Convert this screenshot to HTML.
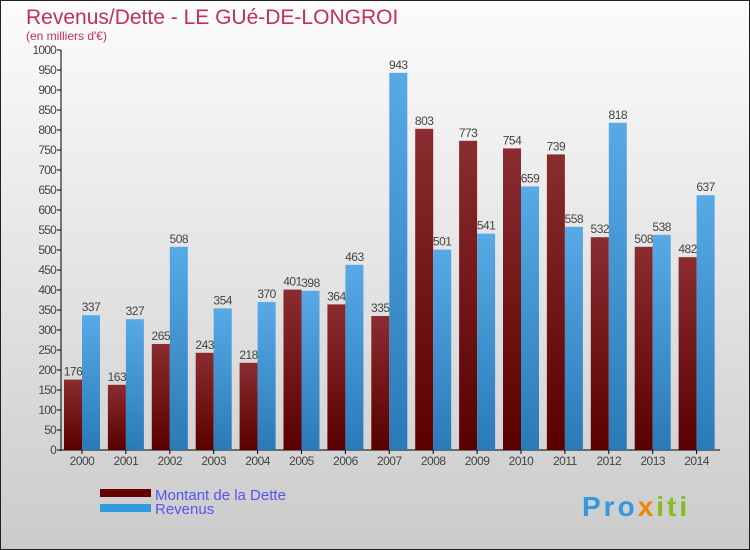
<!DOCTYPE html>
<html><head><meta charset="utf-8"><style>
body{margin:0}
#c{width:750px;height:550px;position:relative;box-sizing:border-box;border:1px solid #222;background:linear-gradient(#fcfcfc,#cbcbcb);font-family:"Liberation Sans",sans-serif;overflow:hidden}
</style></head><body>
<div id="c">
<svg width="750" height="550" style="position:absolute;left:-1px;top:-1px" id="s">
<defs>
<linearGradient id="gd" x1="0" y1="0" x2="0" y2="1"><stop offset="0" stop-color="#8a2c30"/><stop offset="1" stop-color="#5a0000"/></linearGradient>
<linearGradient id="gr" x1="0" y1="0" x2="0" y2="1"><stop offset="0" stop-color="#57aae6"/><stop offset="1" stop-color="#2a7ab8"/></linearGradient>
</defs>
<text x="26" y="24" font-size="21" fill="#c0305a">Revenus/Dette - LE GUé-DE-LONGROI</text>
<text x="26" y="40" font-size="12" fill="#c0305a">(en milliers d'€)</text>
<g id="g"></g>
<rect x="100" y="489" width="51" height="8" fill="#660000"/>
<rect x="100" y="504" width="51" height="8" fill="#3399dd"/>
<text x="155" y="500" font-size="15" fill="#5555ee">Montant de la Dette</text>
<text x="155" y="514" font-size="15" fill="#5555ee">Revenus</text>
<text x="582" y="516" font-size="28" font-weight="bold" letter-spacing="3" fill="#3399dd">Pro<tspan fill="#ee8800">x</tspan><tspan fill="#88bb22">iti</tspan></text>
</svg>
</div>
<script>
const years=["2000","2001","2002","2003","2004","2005","2006","2007","2008","2009","2010","2011","2012","2013","2014"];
const dette=[176,163,265,243,218,401,364,335,803,773,754,739,532,508,482];
const revenus=[337,327,508,354,370,398,463,943,501,541,659,558,818,538,637];
const yTicks=[0,50,100,150,200,250,300,350,400,450,500,550,600,650,700,750,800,850,900,950,1000];
const NS="http://www.w3.org/2000/svg";
const g=document.getElementById('g');
const y=v=>450-v*0.4;
const xc=i=>82+i*43.9;
function mk(t,a,txt){const e=document.createElementNS(NS,t);for(const k in a)e.setAttribute(k,a[k]);if(txt!==undefined)e.textContent=txt;g.appendChild(e);return e;}
let e=mk('line',{x1:61,y1:50,x2:61,y2:451,stroke:'#000'});


e=mk('line',{x1:61,y1:450,x2:720,y2:450,stroke:'#000'});


yTicks.forEach(v=>{
 let t=mk('line',{x1:57,y1:y(v),x2:61,y2:y(v),stroke:'#000'});
 
 
 let l=mk('text',{x:56,y:y(v)+4,'font-size':12,fill:'#444','text-anchor':'end','letter-spacing':'-0.8'},String(v));
 
 
});
years.forEach((yr,i)=>{
 const c=xc(i);
 let t=mk('line',{x1:c,y1:450,x2:c,y2:454,stroke:'#000'});
 
 
 let l=mk('text',{x:c,y:465,'font-size':12,fill:'#444','text-anchor':'middle','letter-spacing':'-0.5'},yr);
 
 
 let b=mk('rect',{x:c-18,y:y(dette[i]),width:18,height:450-y(dette[i]),fill:'url(#gd)'});
 
 
 let r=mk('rect',{x:c,y:y(revenus[i]),width:18,height:450-y(revenus[i]),fill:'url(#gr)'});
 
 
 let v1=mk('text',{x:c-9,y:y(dette[i])-4,'font-size':12,fill:'#444','text-anchor':'middle','letter-spacing':'-0.5'},String(dette[i]));
 
 
 let v2=mk('text',{x:c+9,y:y(revenus[i])-4,'font-size':12,fill:'#444','text-anchor':'middle','letter-spacing':'-0.5'},String(revenus[i]));
 
 
});
</script>
</body></html>
